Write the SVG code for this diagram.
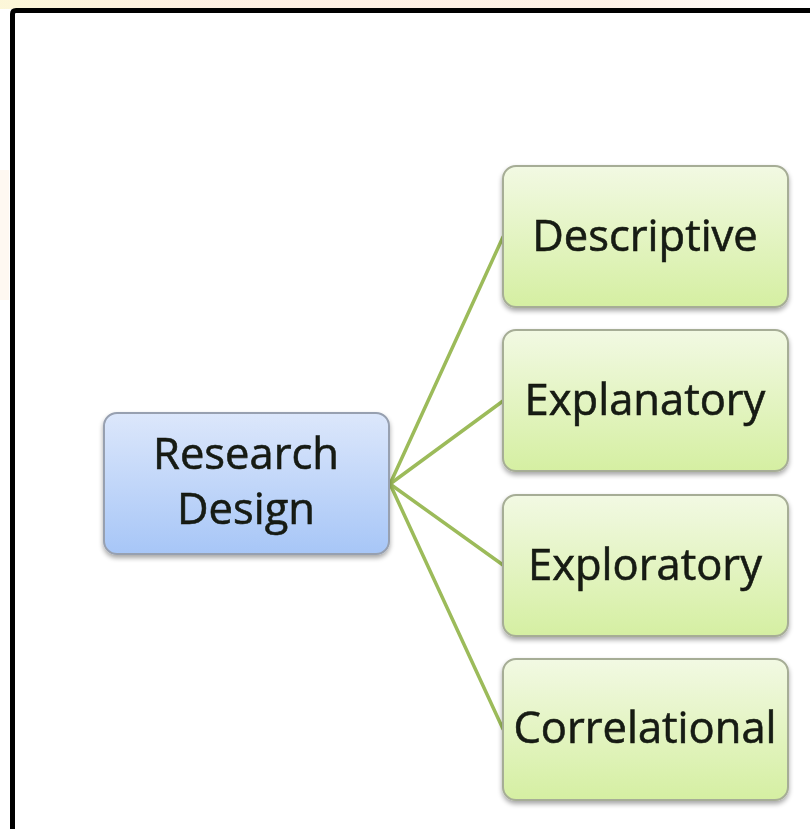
<svg xmlns="http://www.w3.org/2000/svg" width="810" height="829" viewBox="0 0 810 829">
  <defs>
    <linearGradient id="blueFill" x1="0" y1="0" x2="0" y2="1">
      <stop offset="0" stop-color="#dce7fb"/>
      <stop offset="1" stop-color="#a7c6f7"/>
    </linearGradient>
    <linearGradient id="greenFill" x1="0" y1="0" x2="0" y2="1">
      <stop offset="0" stop-color="#f2f9e3"/>
      <stop offset="1" stop-color="#d5efa2"/>
    </linearGradient>
    <linearGradient id="edgeGlow" x1="0" y1="0" x2="1" y2="0">
      <stop offset="0" stop-color="#fbf3c8"/>
      <stop offset="0.25" stop-color="#fde9d6"/>
      <stop offset="0.75" stop-color="#fdebdc"/>
      <stop offset="1" stop-color="#ffffff"/>
    </linearGradient>
    <filter id="shadow" x="-10%" y="-10%" width="120%" height="130%">
      <feGaussianBlur in="SourceAlpha" stdDeviation="2.5"/>
      <feOffset dx="0" dy="3" result="b"/>
      <feComponentTransfer><feFuncA type="linear" slope="0.35"/></feComponentTransfer>
      <feMerge><feMergeNode/><feMergeNode in="SourceGraphic"/></feMerge>
    </filter>
  </defs>
  <style>
    .lbl { font-family: "Open Sans", "Noto Sans", "Liberation Sans", sans-serif; font-size: 43.5px; fill: #151a12; stroke: #151a12; stroke-width: 0.6; text-anchor: middle; }
    .main { fill: url(#blueFill); stroke: #97a0b0; stroke-width: 2; }
    .leaf { fill: url(#greenFill); stroke: #a6ad96; stroke-width: 2; }
    .link { stroke: #9cbb5a; stroke-width: 3.5; fill: none; stroke-linecap: round; }
  </style>

  <!-- page background and frame -->
  <rect width="810" height="829" fill="#ffffff"/>
  <rect x="0" y="0" width="810" height="9" fill="url(#edgeGlow)" opacity="0.7"/>
  <rect x="0" y="170" width="9" height="130" fill="#fdeedd" opacity="0.4"/>
  <path d="M12.5 840 V14 Q12.5 10.5 16 10.5 H820" fill="none" stroke="#000" stroke-width="5"/>

  <!-- connectors -->
  <g id="connectors">
    <line class="link" x1="390" y1="484" x2="503" y2="237"/>
    <line class="link" x1="390" y1="484" x2="503" y2="401"/>
    <line class="link" x1="390" y1="484" x2="503" y2="565"/>
    <line class="link" x1="390" y1="484" x2="503" y2="729"/>
  </g>

  <g id="research-design" filter="url(#shadow)">
    <rect class="main" x="104" y="413" width="285" height="141" rx="13"/>
    <text class="lbl" x="246" y="469">Research</text>
    <text class="lbl" x="246" y="524">Design</text>
  </g>

  <g id="descriptive" filter="url(#shadow)">
    <rect class="leaf" x="503" y="166" width="285" height="141" rx="13"/>
    <text class="lbl" x="645" y="251">Descriptive</text>
  </g>

  <g id="explanatory" filter="url(#shadow)">
    <rect class="leaf" x="503" y="330" width="285" height="141" rx="13"/>
    <text class="lbl" x="645" y="415">Explanatory</text>
  </g>

  <g id="exploratory" filter="url(#shadow)">
    <rect class="leaf" x="503" y="495" width="285" height="141" rx="13"/>
    <text class="lbl" x="645" y="580">Exploratory</text>
  </g>

  <g id="correlational" filter="url(#shadow)">
    <rect class="leaf" x="503" y="659" width="285" height="141" rx="13"/>
    <text class="lbl" x="645" y="743">Correlational</text>
  </g>
</svg>
